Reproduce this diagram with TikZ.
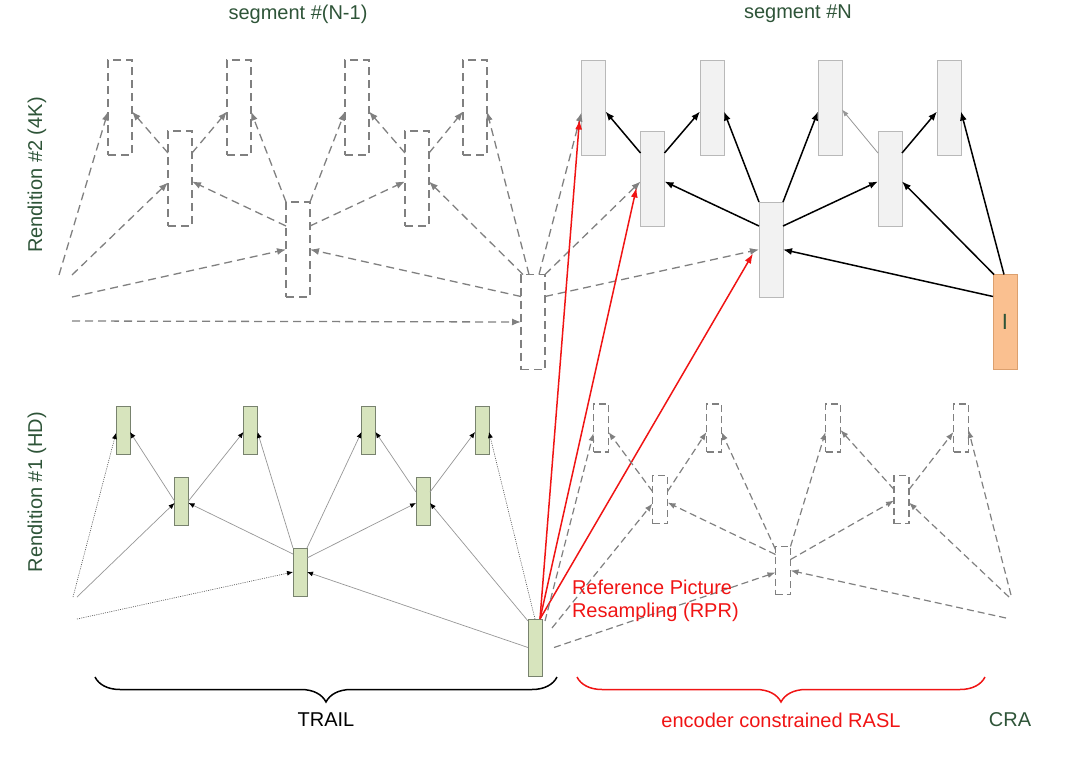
\documentclass[tikz,border=0pt]{standalone}
\usepackage{fontspec}
\setmainfont{Liberation Sans}
\usetikzlibrary{arrows.meta,decorations.pathreplacing}
\definecolor{dgreen}{RGB}{46,84,56}
\definecolor{dgray}{RGB}{128,128,128}
\definecolor{boxfill}{RGB}{242,242,242}
\definecolor{boxline}{RGB}{185,185,185}
\definecolor{gfill}{RGB}{215,228,189}
\definecolor{gline}{RGB}{120,130,110}
\definecolor{ofill}{RGB}{250,192,144}
\definecolor{oline}{RGB}{220,160,110}
\definecolor{tgray}{RGB}{150,150,150}
\definecolor{rred}{RGB}{240,20,20}
\begin{document}
\begin{tikzpicture}[x=1pt,y=-1pt,
  every node/.style={inner sep=0pt,outer sep=0pt},
  lab/.style={font=\fontsize{20pt}{23pt}\selectfont},
  dbox/.style={draw=dgray,line width=1.3pt,dash pattern=on 8pt off 5pt,minimum width=24pt,minimum height=95pt},
  fbox/.style={draw=boxline,fill=boxfill,line width=1pt,minimum width=24pt,minimum height=95pt},
  obox/.style={draw=oline,fill=ofill,line width=1pt,minimum width=24pt,minimum height=95pt},
  gbox/.style={draw=gline,fill=gfill,line width=1pt,minimum width=14pt,minimum height=48pt},
  sbox/.style={draw=dgray,line width=1.2pt,dash pattern=on 7pt off 4pt,minimum width=15pt,minimum height=48pt},
  darr/.style={draw=dgray,line width=1.3pt,dash pattern=on 8pt off 5pt,-{Latex[length=9pt,width=7pt]}},
  sarr/.style={draw=dgray,line width=1.2pt,dash pattern=on 7pt off 4pt,-{Latex[length=8pt,width=6pt]}},
  barr/.style={draw=black,line width=1.5pt,-{Latex[length=9pt,width=7pt]}},
  larr/.style={draw=tgray,line width=0.8pt,-{Latex[length=7pt,width=5pt]}},
  rarr/.style={draw=rred,line width=1.5pt,-{Latex[length=10pt,width=7pt]}},
  tarr/.style={draw=tgray,line width=0.7pt,-{Latex[length=6pt,width=5pt,color=black]}},
  dotarr/.style={draw=black!70,line width=0.6pt,dash pattern=on 1pt off 1.2pt,-{Latex[length=6pt,width=5pt,color=black]}},
  brc/.style={line width=1.5pt,decorate,decoration={brace,mirror,amplitude=25pt}}
]
\useasboundingbox (0,0) rectangle (1080,769);

% labels
\node[lab,text=dgreen] (segA) at (298,14) {segment \#(N-1)};
\node[lab,text=dgreen] (segB) at (798,14) {segment \#N};
\node[lab,text=dgreen,rotate=90] (rend2) at (37,175) {Rendition \#2 (4K)};
\node[lab,text=dgreen,rotate=90] (rend1) at (37,492) {Rendition \#1 (HD)};

% top row, segment N-1
\node[dbox] (TA3a) at (120,107.5) {};
\node[dbox] (TA3b) at (239,107.5) {};
\node[dbox] (TA3c) at (357,107.5) {};
\node[dbox] (TA3d) at (475,107.5) {};
\node[dbox] (TA2a) at (180,178.5) {};
\node[dbox] (TA2b) at (417,178.5) {};
\node[dbox] (TA1) at (298,249.5) {};
\node[dbox] (TA0) at (533,322) {};

% top row, segment N
\node[fbox] (TB3a) at (593.5,107.5) {};
\node[fbox] (TB3b) at (712,107.5) {};
\node[fbox] (TB3c) at (830,107.5) {};
\node[fbox] (TB3d) at (949,107.5) {};
\node[fbox] (TB2a) at (652.5,178.5) {};
\node[fbox] (TB2b) at (890,178.5) {};
\node[fbox] (TB1) at (771,249.5) {};
\node[obox,text=dgreen,font=\fontsize{22pt}{24pt}\selectfont] (TI) at (1005,322) {I};

% bottom row, segment N-1
\node[gbox] (BA3a) at (123,430) {};
\node[gbox] (BA3b) at (250.5,430) {};
\node[gbox] (BA3c) at (368.5,430) {};
\node[gbox] (BA3d) at (482,430) {};
\node[gbox] (BA2a) at (181.5,501) {};
\node[gbox] (BA2b) at (423,501) {};
\node[gbox] (BA1) at (300,572) {};
\node[gbox,minimum height=57pt] (BA0) at (535,647.5) {};

% bottom row, segment N
\node[sbox] (BB3a) at (601,428) {};
\node[sbox] (BB3b) at (714,428) {};
\node[sbox] (BB3c) at (833,428) {};
\node[sbox] (BB3d) at (961,428) {};
\node[sbox] (BB2a) at (660,499.5) {};
\node[sbox] (BB2b) at (901.5,499.5) {};
\node[sbox] (BB1) at (783,570.5) {};

% free ends
\coordinate (fA1) at (59,275);
\coordinate (fA2) at (72,275);
\coordinate (fA3) at (72,297);
\coordinate (fA4) at (72,321);
\coordinate (fB1) at (73,597);
\coordinate (fB2) at (77,597);
\coordinate (fB3) at (77,619);
\coordinate (fC1) at (1009,597);
\coordinate (fC2) at (1011,595);
\coordinate (fC3) at (1006,618);

% top segment N-1 arrows
\draw[darr] (fA1) -- ([yshift=-4pt]TA3a.west);
\draw[darr] (fA2) -- ([yshift=-4pt]TA2a.west);
\draw[darr] (fA3) -- (TA1.west);
\draw[darr] (fA4) -- (TA0.west);
\draw[darr] ([yshift=-22pt]TA2a.north west) -- ([yshift=-4pt]TA3a.east);
\draw[darr] ([yshift=-22pt]TA2a.north east) -- ([yshift=-4pt]TA3b.west);
\draw[darr] (TA1.north west) -- ([yshift=-4pt]TA3b.east);
\draw[darr] (TA1.north east) -- ([yshift=-4pt]TA3c.west);
\draw[darr] ([yshift=-24pt]TA1.north west) -- ([yshift=-3pt]TA2a.east);
\draw[darr] ([yshift=-24pt]TA1.north east) -- ([yshift=-3pt]TA2b.west);
\draw[darr] ([yshift=-22pt]TA2b.north west) -- ([yshift=-4pt]TA3c.east);
\draw[darr] ([yshift=-22pt]TA2b.north east) -- ([yshift=-4pt]TA3d.west);
\draw[darr] ([xshift=8pt]TA0.north west) -- ([yshift=-4pt]TA3d.east);
\draw[darr] ([xshift=2pt]TA0.north west) -- ([yshift=-3pt]TA2b.east);
\draw[darr] ([yshift=-22pt]TA0.north west) -- (TA1.east);
\draw[darr] ([xshift=-6pt]TA0.north east) -- ([yshift=-5pt]TB3a.west);
\draw[darr] (TA0.north east) -- ([yshift=-3pt]TB2a.west);
\draw[darr] ([yshift=-22pt]TA0.north east) -- (TB1.west);

% top segment N arrows
\draw[barr] ([yshift=-22pt]TB2a.north west) -- ([yshift=-4pt]TB3a.east);
\draw[barr] ([yshift=-22pt]TB2a.north east) -- ([yshift=-4pt]TB3b.west);
\draw[barr] (TB1.north west) -- ([yshift=-4pt]TB3b.east);
\draw[barr] (TB1.north east) -- ([yshift=-4pt]TB3c.west);
\draw[barr] ([yshift=-24pt]TB1.north west) -- ([yshift=-3pt]TB2a.east);
\draw[barr] ([yshift=-24pt]TB1.north east) -- ([yshift=-3pt]TB2b.west);
\draw[larr] ([yshift=-22pt]TB2b.north west) -- ([yshift=-2pt]TB3c.east);
\draw[barr] ([yshift=-22pt]TB2b.north east) -- ([yshift=-4pt]TB3d.west);
\draw[barr] ([xshift=1pt]TI.north west) -- ([yshift=-3pt]TB2b.east);
\draw[barr] ([xshift=-1pt]TI.north) -- ([yshift=-4pt]TB3d.east);
\draw[barr] ([yshift=-22pt]TI.north west) -- (TB1.east);

% red RPR arrows
\draw[rarr] ([xshift=-2pt]BA0.north east) -- ([xshift=-2pt,yshift=-12pt]TB3a.west);
\draw[rarr] ([xshift=-2pt]BA0.north east) -- ([xshift=-4pt,yshift=-9pt]TB2a.west);
\draw[rarr] ([xshift=-2pt]BA0.north east) -- ([xshift=-6pt,yshift=-4pt]TB1.west);

% bottom segment N-1 arrows
\draw[dotarr] (fB1) -- ([yshift=-3pt]BA3a.west);
\draw[tarr] (fB2) -- ([yshift=-2pt]BA2a.west);
\draw[dotarr] (fB3) -- (BA1.west);
\draw[tarr] (BA2a.west) -- ([yshift=-2pt]BA3a.east);
\draw[tarr] (BA2a.east) -- ([yshift=-2pt]BA3b.west);
\draw[tarr] (BA1.north west) -- ([yshift=-2pt]BA3b.east);
\draw[tarr] (BA1.north east) -- ([yshift=-2pt]BA3c.west);
\draw[tarr] ([yshift=-6pt]BA1.north west) -- ([yshift=-2pt]BA2a.east);
\draw[tarr] ([yshift=-10pt]BA1.north east) -- ([yshift=-2pt]BA2b.west);
\draw[tarr] ([yshift=-15pt]BA2b.north west) -- ([yshift=-2pt]BA3c.east);
\draw[tarr] ([yshift=-15pt]BA2b.north east) -- ([yshift=-2pt]BA3d.west);
\draw[dotarr] (BA0.north) -- ([yshift=-2pt]BA3d.east);
\draw[tarr] ([yshift=-2pt]BA0.north west) -- ([yshift=-2pt]BA2b.east);
\draw[tarr] (BA0.west) -- (BA1.east);

% bottom segment N arrows
\draw[sarr] ([xshift=3pt,yshift=-2pt]BA0.north east) -- ([yshift=-5pt]BB3a.west);
\draw[sarr] ([xshift=10pt,yshift=-9pt]BA0.north east) -- ([yshift=-4pt]BB2a.west);
\draw[sarr] ([xshift=12pt]BA0.east) -- ([yshift=-2pt]BB1.west);
\draw[sarr] ([yshift=-16pt]BB2a.north west) -- ([yshift=-4pt]BB3a.east);
\draw[sarr] ([yshift=-16pt]BB2a.north east) -- ([yshift=-4pt]BB3b.west);
\draw[sarr] ([yshift=-3pt]BB1.north west) -- ([yshift=-4pt]BB3b.east);
\draw[sarr] (BB1.north east) -- ([yshift=-4pt]BB3c.west);
\draw[sarr] ([yshift=-8pt]BB1.north west) -- ([yshift=-3pt]BB2a.east);
\draw[sarr] ([yshift=-13pt]BB1.north east) -- ([yshift=-1pt]BB2b.west);
\draw[sarr] ([yshift=-14pt]BB2b.north west) -- ([yshift=-2pt]BB3c.east);
\draw[sarr] ([yshift=-14pt]BB2b.north east) -- ([yshift=-4pt]BB3d.west);
\draw[sarr] (fC1) -- ([yshift=-3pt]BB2b.east);
\draw[sarr] (fC2) -- ([yshift=-2pt]BB3d.east);
\draw[sarr] (fC3) -- (BB1.east);

% RPR label
\node[lab,text=rred,anchor=north west,align=left] (rpr) at (572,580) {Reference Picture\\Resampling (RPR)};

% braces
\coordinate (trA) at (95,677);
\coordinate (trB) at (557,677);
\coordinate (raA) at (577,677);
\coordinate (raB) at (985,677);
\draw[brc,black] (trA) -- (trB);
\draw[brc,rred] (raA) -- (raB);
\node[lab,text=black] (trail) at (326,720) {TRAIL};
\node[lab,text=rred] (rasl) at (781,720) {encoder constrained RASL};
\node[lab,text=dgreen] (cra) at (1010,720) {CRA};
\end{tikzpicture}
\end{document}
